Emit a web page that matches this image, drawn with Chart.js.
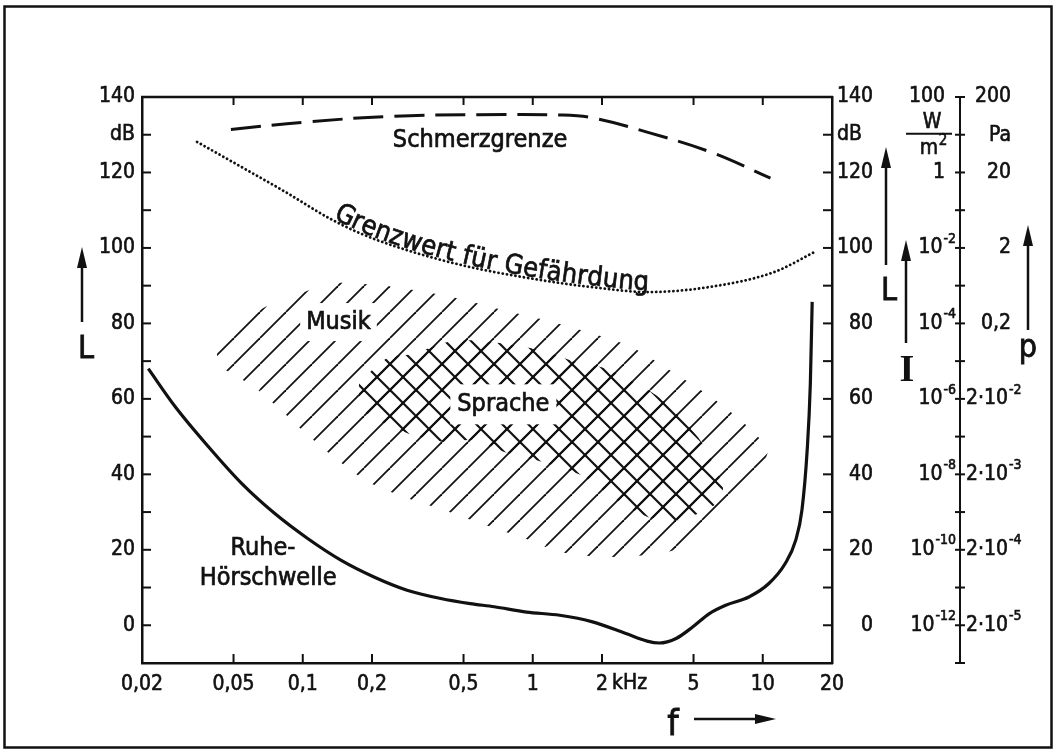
<!DOCTYPE html>
<html>
<head>
<meta charset="utf-8">
<title>Hörfläche</title>
<script src="https://cdn.jsdelivr.net/npm/chart.js@4.4.0/dist/chart.umd.min.js"></script>
<style>
  html, body { margin: 0; padding: 0; background: #fff; }
  #wrap { width: 1060px; height: 756px; position: relative; }
  canvas { display: block; }
</style>
</head>
<body>
<div id="wrap"><canvas id="c" width="1060" height="756"></canvas></div>
<script>
// ---- Frequency axis (kHz) ----
const fTicks = [0.02, 0.05, 0.1, 0.2, 0.5, 1, 2, 5, 10, 20];
const fTickLabels = ['0,02', '0,05', '0,1', '0,2', '0,5', '1', '2', '5', '10', '20'];

// ---- Level axis labels (figure spaces keep the right-hand column flush) ----
const levelLabels = { 140: '140', 130: 'dB', 120: '120', 100: '100', 80: '80', 60: '60', 40: '40', 20: '20', 0: '0' };
const levelLabelsRight = { 140: '140', 130: 'dB', 120: '120', 100: '100', 80: '\u200780', 60: '\u200760', 40: '\u200740', 20: '\u200720', 0: '\u2007\u20070' };

// ---- Secondary scales: intensity I (W/m²) and sound pressure p (Pa) ----
const secLevels = [140, 120, 100, 80, 60, 40, 20, 0];
const intensityBase = ['100', '1', '10', '10', '10', '10', '10', '10'];
const intensityExp = ['', '', '-2', '-4', '-6', '-8', '-10', '-12'];
const pressureBase = ['200', '20', '2', '0,2', '2·10', '2·10', '2·10', '2·10'];
const pressureExp = ['', '', '', '', '-2', '-3', '-4', '-5'];

// ---- Ruhe-Hörschwelle (threshold in quiet) ----
const schwelleF = [0.0213, 0.0279, 0.0389, 0.0542, 0.0756, 0.105, 0.147, 0.204, 0.284, 0.398, 0.534, 0.68, 0.94, 1.31, 1.82, 2.54, 3.14, 3.55, 4.2, 4.97, 5.86, 6.9, 8.7, 10.6, 12.5, 13.9, 14.8, 15.6, 16.1, 16.4];
const schwelleL = [68.0, 57.9, 47.3, 37.6, 29.6, 23.0, 17.2, 12.8, 9.3, 7.1, 5.75, 4.9, 3.5, 2.65, 0.9, -2.2, -4.2, -4.7, -3.5, -0.4, 3.1, 5.3, 7.5, 11.0, 16.3, 22.5, 30.5, 46.4, 64.0, 85.7];

// ---- Schmerzgrenze (threshold of pain) ----
const schmerzF = [0.0487, 0.105, 0.247, 0.575, 1.35, 1.88, 3.14, 5.94, 10.8];
const schmerzL = [131.4, 133.4, 134.9, 135.3, 135.2, 134.3, 130.7, 125.4, 118.5];

// ---- Grenzwert für Gefährdung (hazard limit) ----
const grenzF = [0.0347, 0.0558, 0.0853, 0.130, 0.179, 0.247, 0.400, 0.575, 0.9, 1.35, 2.0, 3.14, 5.94, 11.2, 16.8];
const grenzL = [128.1, 121.0, 114.6, 107.9, 103.8, 100.6, 96.8, 94.5, 92.3, 90.6, 89.3, 88.3, 89.7, 93.6, 98.9];

// ---- Musik area: upper and lower edge ----
const musikOberF = [0.0424, 0.0523, 0.0671, 0.0889, 0.129, 0.167, 0.219, 0.343, 0.513, 0.804, 1.22, 1.82, 2.67, 3.86, 5.96, 8.04, 10.5];
const musikOberL = [74.7, 79.5, 84.0, 86.9, 90.6, 90.6, 90.1, 88.3, 86.1, 83.0, 80.4, 77.3, 73.8, 68.0, 60.5, 54.3, 47.3];
const musikUnterF = [0.0424, 0.0521, 0.0614, 0.0804, 0.105, 0.142, 0.192, 0.276, 0.412, 0.596, 0.889, 1.33, 2.05, 3.61, 5.38, 9.07, 10.6];
const musikUnterL = [68.9, 65.8, 63.2, 57.0, 50.4, 43.7, 38.0, 34.0, 30.5, 27.0, 23.4, 19.4, 18.1, 19.1, 22.5, 36.3, 46.4];

// ---- Sprache area: upper and lower edge ----
const spracheOberF = [0.1756, 0.234, 0.296, 0.427, 0.557, 0.740, 1.09, 1.47, 2.06, 3.43, 5.23, 6.71];
const spracheOberL = [64.4, 70.9, 71.8, 75.1, 75.5, 74.7, 72.9, 70.2, 68.1, 61.0, 49.8, 36.6];
const spracheUnterF = [0.1756, 0.205, 0.301, 0.412, 0.557, 0.752, 1.10, 1.62, 2.32, 3.16, 4.27, 6.15];
const spracheUnterL = [57.8, 54.8, 50.4, 48.6, 49.0, 45.9, 43.3, 39.8, 33.1, 28.7, 27.8, 31.8];

const FONT = "'DejaVu Sans Condensed', 'DejaVu Sans', sans-serif";
const INK = '#111';

const pts = (fs, ls) => fs.map((f, i) => ({ x: f, y: ls[i] }));
const closedArea = (fo, lo, fu, lu) => pts(fo, lo).concat(pts(fu, lu).reverse());

const canvas = document.getElementById('c');
const ctx0 = canvas.getContext('2d');

// line hatching tiles: '/' and '\'
function hatch(dirs, lw, s) {
  const t = document.createElement('canvas');
  t.width = s; t.height = s;
  const g = t.getContext('2d');
  g.strokeStyle = INK; g.lineWidth = lw;
  for (const d of dirs) {
    for (const k of [-s, 0, s]) {
      g.beginPath();
      if (d === '/') { g.moveTo(k, s); g.lineTo(k + s, 0); }
      else { g.moveTo(k, 0); g.lineTo(k + s, s); }
      g.stroke();
    }
  }
  return ctx0.createPattern(t, 'repeat');
}
const musikHatch = hatch(['/'], 1.8, 26);
const spracheHatch = hatch(['/', '\\'], 2.2, 26);

function line(ctx, x1, y1, x2, y2) {
  ctx.beginPath(); ctx.moveTo(x1, y1); ctx.lineTo(x2, y2); ctx.stroke();
}
function arrowUp(ctx, x, yTail, yTip) {
  line(ctx, x, yTail, x, yTip + 14);
  ctx.beginPath(); ctx.moveTo(x, yTip); ctx.lineTo(x - 5, yTip + 21); ctx.lineTo(x + 5, yTip + 21); ctx.closePath(); ctx.fill();
}
function arrowRight(ctx, xTail, xTip, y) {
  line(ctx, xTail, y, xTip - 14, y);
  ctx.beginPath(); ctx.moveTo(xTip, y); ctx.lineTo(xTip - 21, y - 5); ctx.lineTo(xTip - 21, y + 5); ctx.closePath(); ctx.fill();
}
// filled text with a thin outline for a heavier stroke
function inkText(ctx, s, x, y) {
  ctx.strokeText(s, x, y);
  ctx.fillText(s, x, y);
}
// number with raised exponent; 'right' puts the whole label flush at x, 'left' starts it at x
function supText(ctx, base, exp, x, y, align) {
  ctx.textBaseline = 'middle';
  ctx.font = '14px ' + FONT;
  const ew = exp ? ctx.measureText(exp).width + 1 : 0;
  ctx.font = '21px ' + FONT;
  const bw = ctx.measureText(base).width;
  const x0 = align === 'right' ? x - ew - bw : x;
  ctx.textAlign = 'left';
  inkText(ctx, base, x0, y);
  if (exp) {
    ctx.font = '14px ' + FONT;
    inkText(ctx, exp, x0 + bw + 1, y - 9);
  }
}
// dense polyline of a rendered (bezier) line dataset
function densePath(meta) {
  const p = meta.data;
  const out = [{ x: p[0].x, y: p[0].y }];
  for (let i = 1; i < p.length; i++) {
    const a = p[i - 1], b = p[i];
    const c1x = a.cp2x ?? a.x, c1y = a.cp2y ?? a.y, c2x = b.cp1x ?? b.x, c2y = b.cp1y ?? b.y;
    for (let k = 1; k <= 20; k++) {
      const t = k / 20, u = 1 - t;
      out.push({
        x: u*u*u*a.x + 3*u*u*t*c1x + 3*u*t*t*c2x + t*t*t*b.x,
        y: u*u*u*a.y + 3*u*u*t*c1y + 3*u*t*t*c2y + t*t*t*b.y
      });
    }
  }
  return out;
}
function yOnPath(path, x) {
  for (let i = 1; i < path.length; i++) {
    if (x <= path[i].x) {
      const a = path[i - 1], b = path[i];
      const t = (x - a.x) / ((b.x - a.x) || 1);
      return a.y + t * (b.y - a.y);
    }
  }
  return path[path.length - 1].y;
}
function textAlongPath(ctx, path, text, startX, lift, extra) {
  let x = startX;
  ctx.textAlign = 'center'; ctx.textBaseline = 'alphabetic';
  for (const ch of text) {
    const w = ctx.measureText(ch).width + extra;
    const xm = x + w / 2;
    const ang = Math.atan2(yOnPath(path, xm + 6) - yOnPath(path, xm - 6), 12);
    ctx.save();
    ctx.translate(xm, yOnPath(path, xm) - lift);
    ctx.rotate(ang);
    inkText(ctx, ch, 0, 0);
    ctx.restore();
    x += w * Math.cos(ang);
  }
}
function boxedLabel(ctx, text, cx, baseline, pad) {
  const m = ctx.measureText(text);
  ctx.fillStyle = '#fff';
  ctx.fillRect(cx - m.width / 2 - pad, baseline - 20 - pad, m.width + 2 * pad, 26 + 2 * pad);
  ctx.fillStyle = INK;
  ctx.textAlign = 'center'; ctx.textBaseline = 'alphabetic';
  inkText(ctx, text, cx, baseline);
}

const decor = {
  id: 'decor',
  afterDatasetsDraw(chart) {
    const { ctx, scales: { x, y } } = chart;
    ctx.save();
    ctx.fillStyle = INK; ctx.strokeStyle = INK; ctx.lineWidth = 0.7;
    ctx.font = '25px ' + FONT;
    boxedLabel(ctx, 'Musik', x.getPixelForValue(0.143), y.getPixelForValue(78.5), 6);
    boxedLabel(ctx, 'Sprache', x.getPixelForValue(0.745), y.getPixelForValue(56.7), 7);
    ctx.textAlign = 'center'; ctx.textBaseline = 'alphabetic';
    inkText(ctx, 'Schmerzgrenze', x.getPixelForValue(0.59), y.getPixelForValue(126.7));
    inkText(ctx, 'Ruhe-', x.getPixelForValue(0.0671), y.getPixelForValue(18.6));
    inkText(ctx, 'Hörschwelle', x.getPixelForValue(0.0707), y.getPixelForValue(10.6));
    ctx.font = '27px ' + FONT;
    const path = densePath(chart.getDatasetMeta(2));
    textAlongPath(ctx, path, 'Grenzwert für Gefährdung', 332, 2, 0.3);
    ctx.restore();
  },
  afterDraw(chart) {
    const { ctx, chartArea: a, scales: { x, y, yP } } = chart;
    ctx.save();
    ctx.strokeStyle = INK; ctx.fillStyle = INK;

    // outer frame
    ctx.lineWidth = 2.5;
    ctx.strokeRect(4.5, 6.5, 1047, 741);

    // top edge of the diagram box
    line(ctx, a.left - 1, a.top, a.right + 1, a.top);

    // inward tick marks
    ctx.lineWidth = 2;
    fTicks.slice(1, -1).forEach(v => {
      const px = x.getPixelForValue(v);
      line(ctx, px, a.bottom, px, a.bottom - 9);
      line(ctx, px, a.top, px, a.top + 8);
    });
    for (let v = 0; v <= 130; v += 10) {
      const py = y.getPixelForValue(v);
      line(ctx, a.left, py, a.left + 9, py);
      line(ctx, a.right, py, a.right - 9, py);
    }
    // crossing ticks on the I / p scale
    const xs = yP.left;
    for (let v = -10; v <= 140; v += 10) {
      const py = yP.getPixelForValue(v);
      line(ctx, xs - 5, py, xs + 5, py);
    }

    // I and p scale labels
    ctx.lineWidth = 0.6;
    secLevels.forEach((v, i) => {
      const py = yP.getPixelForValue(v);
      if (intensityExp[i]) supText(ctx, intensityBase[i], intensityExp[i], xs - 4, py, 'right');
      else supText(ctx, intensityBase[i], '', xs - 15, py, 'right');
      if (pressureExp[i]) supText(ctx, pressureBase[i], pressureExp[i], xs + 6, py, 'left');
      else supText(ctx, pressureBase[i], '', xs + 51, py, 'right');
    });
    // units at 130 dB
    const pu = yP.getPixelForValue(130);
    ctx.font = '21px ' + FONT;
    ctx.textAlign = 'center'; ctx.textBaseline = 'middle';
    inkText(ctx, 'W', xs - 28, pu - 12);
    inkText(ctx, 'm', xs - 31, pu + 14);
    ctx.font = '15px ' + FONT;
    inkText(ctx, '2', xs - 17, pu + 6);
    ctx.lineWidth = 2;
    line(ctx, xs - 54, pu - 1, xs - 8, pu - 1);
    ctx.lineWidth = 0.6;
    ctx.font = '21px ' + FONT;
    ctx.textAlign = 'right';
    inkText(ctx, 'Pa', xs + 51, pu + 1);

    // unit after the 2 kHz tick
    ctx.textAlign = 'left'; ctx.textBaseline = 'top';
    inkText(ctx, 'kHz', x.getPixelForValue(2) + 10, a.bottom + 10);

    // quantity symbols with arrows
    ctx.lineWidth = 2.5;
    arrowUp(ctx, 82, 322, 247);
    arrowUp(ctx, 886, 265, 147);
    arrowUp(ctx, 906, 343, 240);
    arrowUp(ctx, 1028, 330, 225);
    arrowRight(ctx, 694, 776, 719);
    ctx.lineWidth = 0.8;
    ctx.textAlign = 'center'; ctx.textBaseline = 'alphabetic';
    ctx.font = '32px ' + FONT;
    inkText(ctx, 'L', 86, 358);
    inkText(ctx, 'L', 889, 300);
    inkText(ctx, 'p', 1028, 357);
    ctx.font = '36px ' + FONT;
    inkText(ctx, 'f', 673, 735);
    ctx.font = 'bold 38px "Liberation Serif", "DejaVu Serif", serif';
    ctx.fillText('I', 907, 381);
    ctx.restore();
  }
};

const tickFont = { family: FONT, size: 21 };
const noPad = s => { s.paddingTop = 0; s.paddingBottom = 0; s.paddingLeft = 0; s.paddingRight = 0; };

new Chart(canvas, {
  type: 'line',
  data: {
    datasets: [
      { label: 'Ruhe-Hörschwelle', data: pts(schwelleF, schwelleL), borderColor: INK, borderWidth: 3.2,
        pointRadius: 0, cubicInterpolationMode: 'monotone', fill: false },
      { label: 'Schmerzgrenze', data: pts(schmerzF, schmerzL), borderColor: INK, borderWidth: 3,
        borderDash: [30, 11], pointRadius: 0, tension: 0.4, fill: false },
      { label: 'Grenzwert für Gefährdung', data: pts(grenzF, grenzL), borderColor: INK, borderWidth: 2.8,
        borderDash: [0.1, 4.2], borderCapStyle: 'round', pointRadius: 0, cubicInterpolationMode: 'monotone', fill: false },
      { label: 'Sprache', data: closedArea(spracheOberF, spracheOberL, spracheUnterF, spracheUnterL),
        borderColor: 'rgba(0,0,0,0)', borderWidth: 0, backgroundColor: spracheHatch, fill: 'shape',
        pointRadius: 0, tension: 0.25 },
      { label: 'Musik', data: closedArea(musikOberF, musikOberL, musikUnterF, musikUnterL),
        borderColor: 'rgba(0,0,0,0)', borderWidth: 0, backgroundColor: musikHatch, fill: 'shape',
        pointRadius: 0, tension: 0.25 }
    ]
  },
  options: {
    responsive: false,
    animation: false,
    devicePixelRatio: 1,
    layout: { autoPadding: false, padding: { top: 97, left: 0, right: 0, bottom: 0 } },
    plugins: { legend: { display: false }, tooltip: { enabled: false } },
    scales: {
      x: {
        type: 'logarithmic', position: 'bottom', min: 0.02, max: 20,
        afterBuildTicks: s => { s.ticks = fTicks.map(v => ({ value: v })); },
        afterFit: s => { s.height = 93; noPad(s); },
        ticks: { callback: (v, i) => fTickLabels[i], font: tickFont, color: INK, padding: 9,
                 maxRotation: 0, autoSkip: false, textStrokeColor: INK, textStrokeWidth: 0.6 },
        grid: { drawOnChartArea: false, drawTicks: false },
        border: { display: true, color: INK, width: 2.5 }
      },
      y: {
        type: 'linear', position: 'left', min: -10, max: 140,
        afterFit: s => { s.width = 142; noPad(s); },
        ticks: { stepSize: 10, callback: v => levelLabels[v] || '', font: tickFont, color: INK, padding: 7,
                 autoSkip: false, textStrokeColor: INK, textStrokeWidth: 0.6 },
        grid: { drawOnChartArea: false, drawTicks: false },
        border: { display: true, color: INK, width: 2.5 }
      },
      y2: {
        type: 'linear', position: 'right', min: -10, max: 140,
        afterFit: s => { s.width = 128; noPad(s); },
        ticks: { stepSize: 10, callback: v => levelLabelsRight[v] || '', font: tickFont, color: INK, padding: 5,
                 autoSkip: false, textStrokeColor: INK, textStrokeWidth: 0.6 },
        grid: { drawOnChartArea: false, drawTicks: false },
        border: { display: true, color: INK, width: 2.5 }
      },
      yP: {
        type: 'linear', position: 'right', min: -10, max: 140,
        afterFit: s => { s.width = 100; noPad(s); },
        ticks: { display: false, stepSize: 10 },
        grid: { drawOnChartArea: false, drawTicks: false },
        border: { display: true, color: INK, width: 2 }
      }
    }
  },
  plugins: [decor]
});
</script>
</body>
</html>
